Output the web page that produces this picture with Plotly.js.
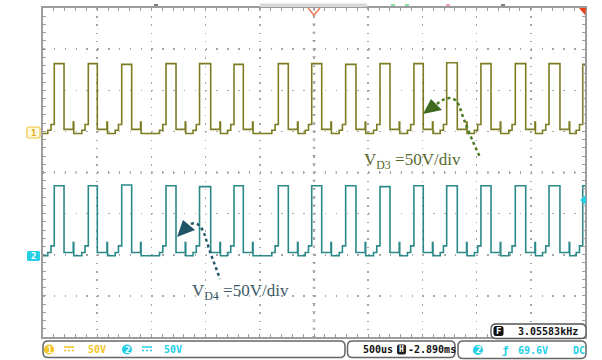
<!DOCTYPE html>
<html>
<head>
<meta charset="utf-8">
<script src="https://cdn.plot.ly/plotly-3.0.1.min.js"></script>
<style>html,body{margin:0;padding:0;background:#fff;}#chart{width:602px;height:360px;}</style>
</head>
<body>
<div id="chart"></div>
<script>
// ---- data (time in ms, 500 us/div, 10 div) ----
const riseT    = [0.104, 0.418, 0.726, 1.135, 1.444, 1.762, 2.171, 2.479, 2.792, 3.109, 3.422, 3.724, 4.040, 4.357, 4.668, 4.979];
const fallT    = [0.194, 0.501, 0.818, 1.227, 1.547, 1.848, 2.263, 2.571, 2.887, 3.201, 3.508, 3.822, 4.133, 4.453, 4.769];
const spikeT   = [0.279, 0.590, 0.900, 1.312, 1.632, 1.933, 2.348, 2.656, 2.972, 3.286, 3.593, 3.907, 4.218, 4.538, 4.854];
const preStepT = [0.044, 0.358, 0.666, 1.075, 1.384, 1.702, 2.111, 2.419, 2.732, 3.049, 3.362, 3.664, 3.980, 4.297, 4.608, 4.919];
const stepT    = [0.074, 0.388, 0.696, 1.105, 1.414, 1.732, 2.141, 2.449, 2.762, 3.079, 3.392, 3.694, 4.010, 4.327, 4.638, 4.949];
// pulse-top voltages (V) per pulse
const ch1High  = [85, 85, 84, 85, 85, 84, 85, 85, 84, 85, 85, 86, 85, 85, 85, 84];
const ch2High  = [85, 85, 86, 85, 84, 85, 85, 85, 85, 84, 85, 85, 85, 85, 85, 85];
// low-side levels (V): [base, preStep, step, afterFall, spike]
const ch1Low   = [0, 4, 11, 5, 14];
const ch2Low   = [0, 4, 12, 4, 16];
const timeRange = [0, 5];          // ms
const ch1Range  = [-247.4, 152.6]; // V (50 V/div, ground marker "1")
const ch2Range  = [-98.8, 301.2];  // V (50 V/div, ground marker "2")

function buildWave(high, low) {
  const x = [timeRange[0]], y = [low[0]];
  for (let i = 0; i < riseT.length; i++) {
    x.push(preStepT[i]); y.push(low[1]);
    x.push(stepT[i]);    y.push(low[2]);
    x.push(riseT[i]);    y.push(high[i]);
    if (i < fallT.length) {
      x.push(fallT[i]);  y.push(low[3]);
      x.push(spikeT[i]); y.push(low[4]);
      x.push(spikeT[i] + 0.005); y.push(low[0]);
    }
  }
  x.push(timeRange[1]); y.push(y[y.length - 1]);
  return {x, y};
}
const w1 = buildWave(ch1High, ch1Low);
const w2 = buildWave(ch2High, ch2Low);

const traces = [
  {x: w1.x, y: w1.y, yaxis: 'y', type: 'scatter', mode: 'lines', line: {shape: 'hv', color: '#7d7c22', width: 1.6}, hoverinfo: 'skip'},
  {x: w2.x, y: w2.y, yaxis: 'y2', type: 'scatter', mode: 'lines', line: {shape: 'hv', color: '#2b8a89', width: 1.6}, hoverinfo: 'skip'}
];

// ---- layout helpers (pixel -> paper) ----
const PL = 43, PT = 8, PW = 542, PH = 329;
const fx = p => (p - PL) / PW;
const fy = p => (PT + PH - p) / PH;
function rr(x0, y0, x1, y1, r) {
  const X = fx, Y = fy;
  return `M ${X(x0+r)},${Y(y0)} L ${X(x1-r)},${Y(y0)} Q ${X(x1)},${Y(y0)} ${X(x1)},${Y(y0+r)} L ${X(x1)},${Y(y1-r)} Q ${X(x1)},${Y(y1)} ${X(x1-r)},${Y(y1)} L ${X(x0+r)},${Y(y1)} Q ${X(x0)},${Y(y1)} ${X(x0)},${Y(y1-r)} L ${X(x0)},${Y(y0+r)} Q ${X(x0)},${Y(y0)} ${X(x0+r)},${Y(y0)} Z`;
}
function poly(pts, close) {
  return pts.map((p, i) => (i ? 'L ' : 'M ') + fx(p[0]) + ',' + fy(p[1])).join(' ') + (close ? ' Z' : '');
}
function pshape(path, line, fill, extra) {
  return Object.assign({type: 'path', xref: 'paper', yref: 'paper', path, line: line || {width: 0}, fillcolor: fill || 'rgba(0,0,0,0)'}, extra || {});
}
function circ(cx, cy, r, fill) {
  return {type: 'circle', xref: 'paper', yref: 'paper', x0: fx(cx - r), x1: fx(cx + r), y0: fy(cy + r), y1: fy(cy - r), fillcolor: fill, line: {width: 0}};
}
function lineSh(x0, y0, x1, y1, color, width, dash) {
  return {type: 'line', xref: 'paper', yref: 'paper', x0: fx(x0), y0: fy(y0), x1: fx(x1), y1: fy(y1), line: {color, width, dash: dash || 'solid'}};
}
function txt(x, y, text, color, size, opts) {
  return Object.assign({xref: 'paper', yref: 'paper', x: fx(x), y: fy(y), text, showarrow: false,
    xanchor: 'left', yanchor: 'middle', font: {family: 'DejaVu Sans Mono', size, color, weight: 'bold'}}, opts || {});
}

const yellow = '#f2c424', cyan = '#22cfe6';
const shapes = [
  // centre cross tick marks
  {type: 'line', xref: 'paper', yref: 'paper', x0: 0.5, x1: 0.5, y0: 0, y1: 1, line: {color: '#a0a0a0', width: 3, dash: '1px,7.225px'}},
  {type: 'line', xref: 'paper', yref: 'paper', x0: 0, x1: 1, y0: 0.5, y1: 0.5, line: {color: '#a0a0a0', width: 3, dash: '1px,9.84px'}},
  // top bar and markers
  pshape(poly([[260,3.5],[367,3.5],[367,7],[260,7]], true), {width: 0}, '#d9d9d9'),
  pshape(poly([[308,8],[314,15],[320,8]]), {color: '#f07a5a', width: 1.5}),
  pshape(poly([[579,8],[586,8],[585,15]], true), {width: 0}, '#e8401a'),
  lineSh(154, 5, 158, 5, '#555', 1.5),
  lineSh(391, 5, 395, 5, '#7fe0a0', 2),
  lineSh(405, 5, 409, 5, '#7fe0a0', 2),
  lineSh(446, 5, 450, 5, '#f0a0b0', 2),
  lineSh(501, 5, 505, 5, '#555', 1.5),
  // channel ground markers
  pshape(rr(27, 127, 40, 138, 1.5), {color: '#f0c43c', width: 1.2}, '#fffbe0'),
  pshape(rr(27, 251, 40, 261, 1.5), {width: 0}, cyan),
  // right trigger-level marker
  pshape(poly([[586,195],[586,205],[580,200]], true), {width: 0}, cyan),
  // arrows for the labels
  pshape(poly([[423,114],[431,99],[442,110]], true), {width: 0}, '#3f6b1e'),
  pshape(`M ${fx(437)},${fy(104)} C ${fx(446)},${fy(96)} ${fx(456)},${fy(95)} ${fx(460)},${fy(108)} S ${fx(474)},${fy(145)} ${fx(480)},${fy(157)}`, {color: '#4a7a26', width: 2.5, dash: 'dot'}),
  pshape(poly([[177,237],[183,220],[195,230]], true), {width: 0}, '#1f5566'),
  pshape(`M ${fx(191)},${fy(224)} C ${fx(198)},${fy(221)} ${fx(203)},${fy(228)} ${fx(206)},${fy(239)} S ${fx(215)},${fy(265)} ${fx(220)},${fy(279)}`, {color: '#265d6c', width: 2.5, dash: 'dot'}),
  // status boxes
  pshape(rr(491, 324, 586, 338.5, 5), {color: '#555', width: 1.3}, '#ffffff'),
  pshape(rr(493.5, 326, 503.5, 336, 2.5), {width: 0}, '#111'),
  pshape(rr(43, 341, 345, 357.5, 5), {color: '#666', width: 1.5}, '#ffffff'),
  pshape(rr(347.5, 341, 455, 357.5, 5), {color: '#666', width: 1.5}, '#ffffff'),
  pshape(rr(458, 341, 586, 358.5, 5), {color: '#666', width: 1.5}, '#ffffff'),
  circ(49, 349.5, 5, yellow),
  lineSh(64, 347, 74, 347, yellow, 1.5),
  lineSh(64, 350.5, 74, 350.5, yellow, 1.5, '2px,2px'),
  circ(127, 349.5, 5, cyan),
  lineSh(142, 347, 152, 347, cyan, 1.5),
  lineSh(142, 350.5, 152, 350.5, cyan, 1.5, '2px,2px'),
  pshape(rr(397, 344.5, 406, 354.5, 2), {width: 0}, '#222'),
  circ(478, 350, 5, cyan)
];

const annotations = [
  txt(33.5, 132.5, '1', '#e0aa10', 9, {xanchor: 'center'}),
  txt(33.5, 256, '2', '#ffffff', 9, {xanchor: 'center'}),
  {xref: 'paper', yref: 'paper', x: fx(362), y: fy(161), xanchor: 'left', yanchor: 'middle', showarrow: false,
   text: 'V<sub>D3</sub> =50V/div', font: {family: 'Liberation Serif', size: 17, color: '#56682a'}},
  {xref: 'paper', yref: 'paper', x: fx(190), y: fy(292), xanchor: 'left', yanchor: 'middle', showarrow: false,
   text: 'V<sub>D4</sub> =50V/div', font: {family: 'Liberation Serif', size: 17, color: '#3c5966'}},
  txt(498.5, 331, 'F', '#ffffff', 9, {xanchor: 'center'}),
  txt(516, 331, '3.05583kHz', '#111', 10),
  txt(49, 349.5, '1', '#ffffff', 9, {xanchor: 'center'}),
  txt(86, 349.5, '50V', yellow, 10),
  txt(127, 349.5, '2', '#ffffff', 9, {xanchor: 'center'}),
  txt(162, 349.5, '50V', cyan, 10),
  txt(361, 349.5, '500us', '#111', 10),
  txt(401.5, 349.5, 'H', '#ffffff', 8, {xanchor: 'center'}),
  txt(406, 349.5, '-2.890ms', '#111', 10),
  txt(478, 350, '2', '#ffffff', 9, {xanchor: 'center'}),
  txt(500, 350, 'ƒ', cyan, 11),
  txt(516, 350, '69.6V', cyan, 10),
  txt(571, 350, 'DC', cyan, 10)
];

const axisCommon = {showticklabels: false, zeroline: false, showline: true, linecolor: '#9c9c9c', linewidth: 2,
  mirror: 'allticks', ticks: 'inside', ticklen: 3, tickcolor: '#9c9c9c', tickwidth: 1, fixedrange: true};

const layout = {
  width: 602, height: 360,
  margin: {l: PL, r: 602 - PL - PW, t: PT, b: 360 - PT - PH, pad: 0},
  paper_bgcolor: '#ffffff', plot_bgcolor: '#ffffff',
  showlegend: false,
  xaxis: Object.assign({}, axisCommon, {range: timeRange, dtick: 0.5, tick0: 0, showgrid: true, gridcolor: '#a6a6a6', gridwidth: 1.5, griddash: '1.5px,6.725px',
    minor: {dtick: 0.1, tick0: 0, ticks: 'inside', ticklen: 3, tickcolor: '#9c9c9c', showgrid: false}}),
  yaxis: Object.assign({}, axisCommon, {range: ch1Range, dtick: 50, tick0: 2.6, showgrid: true, gridcolor: '#a6a6a6', gridwidth: 1.5, griddash: '1.5px,9.34px',
    minor: {dtick: 10, tick0: 2.6, ticks: 'inside', ticklen: 3, tickcolor: '#9c9c9c', showgrid: false}}),
  yaxis2: {overlaying: 'y', range: ch2Range, visible: false, fixedrange: true},
  shapes, annotations
};

Plotly.newPlot('chart', traces, layout, {staticPlot: true, displayModeBar: false});
</script>
</body>
</html>
